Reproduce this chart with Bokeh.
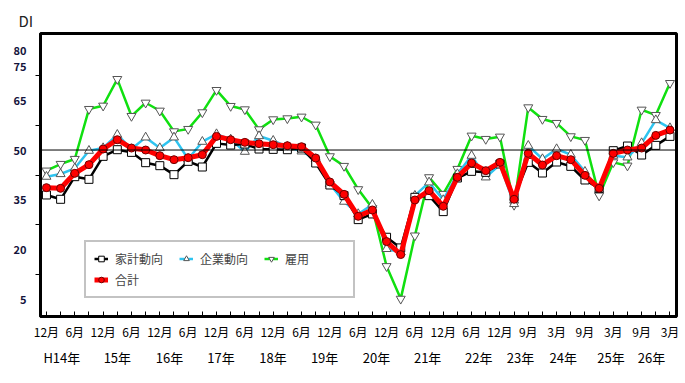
from bokeh.plotting import figure
from bokeh.layouts import column
from bokeh.models import (Range1d, FixedTicker, Span, Legend, LegendItem)
from bokeh.core.properties import value
from bokeh.embed import file_html
from bokeh.resources import INLINE

# ---- data ----
month_labels = ["12月", "6月", "12月", "6月", "12月", "6月", "12月", "6月", "12月",
                "6月", "12月", "6月", "12月", "6月", "12月", "6月", "12月",
                "9月", "3月", "9月", "3月", "9月", "3月"]
year_labels = ["H14年", "15年", "16年", "17年", "18年", "19年", "20年", "21年",
               "22年", "23年", "24年", "25年", "26年"]
y_tick_labels = [5, 20, 35, 50, 65, 75, 80]

household = [36.5, 35.2, 42.0, 41.2, 48.1, 50.1, 49.3, 46.2, 45.3, 42.6, 46.6, 44.9,
             52.0, 51.5, 51.8, 50.3, 50.2, 50.1, 50.6, 46.1, 39.5, 36.3, 29.1, 30.8,
             23.8, 20.6, 35.8, 36.3, 31.5, 41.6, 43.6, 43.3, 45.8, 35.8, 46.3, 43.1,
             46.4, 45.1, 41.0, 38.5, 49.8, 51.2, 48.5, 51.4, 54.1]
corporate = [42.0, 42.8, 44.5, 49.8, 50.6, 54.6, 50.3, 53.8, 50.6, 53.8, 47.3, 52.5,
             54.8, 53.2, 49.5, 54.2, 52.8, 51.0, 49.6, 47.3, 39.8, 34.5, 30.8, 33.6,
             20.3, 19.3, 36.3, 40.3, 35.0, 42.8, 48.3, 41.8, 45.6, 33.8, 51.3, 47.3,
             50.3, 48.6, 43.5, 38.0, 48.3, 47.8, 52.1, 59.0, 56.6]
employment = [43.8, 45.8, 47.3, 62.3, 63.3, 71.3, 60.2, 64.2, 61.8, 55.6, 56.3, 61.3,
              68.0, 63.2, 62.2, 56.2, 59.2, 59.5, 60.0, 57.6, 48.1, 45.2, 38.2, 32.5,
              15.1, 5.3, 24.3, 41.8, 36.8, 44.3, 54.3, 53.3, 54.0, 33.5, 62.8, 59.3,
              58.1, 54.1, 53.0, 36.3, 46.3, 45.3, 62.1, 60.5, 70.1]
total = [38.7, 38.5, 43.0, 45.6, 50.3, 53.1, 50.6, 50.0, 48.3, 47.1, 47.7, 48.6,
         54.1, 53.1, 52.3, 51.9, 51.6, 51.3, 51.0, 47.6, 40.4, 36.7, 30.1, 32.0,
         22.5, 18.6, 35.0, 37.8, 33.1, 41.8, 46.1, 43.8, 46.3, 35.2, 49.0, 45.5,
         48.3, 47.1, 42.4, 38.5, 49.0, 50.0, 50.6, 54.4, 56.0]

# ---- layout constants ----
year_label_pos = [-1.62, 2.6, 6.56, 10.48, 14.43, 18.35, 22.3, 26.18, 30.06,
                  33.24, 36.49, 40.12, 43.19]
minor_y_ticks = [12.5, 27.5, 42.5, 57.5, 72.5]
FONT = "Noto Sans CJK JP"
W = 685
MAIN_H = 345
STRIP_H = 38
BL, BR, BT, BB = 40, 9, 33, 29
X0, X1 = -0.42, 44.46

n = len(total)
xs = list(range(n))

p = figure(width=W, height=MAIN_H, output_backend="svg", toolbar_location=None,
           x_range=Range1d(X0, X1), y_range=Range1d(0, 85),
           min_border_left=BL, min_border_right=BR, min_border_top=BT,
           min_border_bottom=BB)
p.xgrid.visible = False
p.ygrid.visible = False
p.outline_line_color = "black"
p.outline_line_width = 3
p.background_fill_color = "white"
p.border_fill_color = "white"

p.title.text = "DI"
p.title.align = "left"
p.title.offset = -22
p.title.standoff = 5
p.title.text_font = FONT
p.title.text_font_size = "15px"
p.title.text_font_style = "normal"
p.title.text_color = "#222222"

# y axis
yax = p.yaxis[0]
yax.ticker = FixedTicker(ticks=y_tick_labels, minor_ticks=minor_y_ticks)
yax.major_tick_line_color = None
yax.major_tick_out = 0
yax.major_tick_in = 0
yax.minor_tick_line_color = "black"
yax.minor_tick_in = 0
yax.minor_tick_out = 5
yax.axis_line_width = 3
yax.major_label_text_font = FONT
yax.major_label_text_font_size = "11px"
yax.major_label_text_font_style = "bold"
yax.major_label_text_color = "#14143c"
yax.major_label_standoff = 9

# x axis
xax = p.xaxis[0]
xax.ticker = FixedTicker(ticks=xs)
overrides = {}
for i in xs:
    overrides[i] = month_labels[i // 2] if i % 2 == 0 else ""
xax.major_label_overrides = overrides
xax.major_tick_in = 5
xax.major_tick_out = 0
xax.major_tick_line_color = "black"
xax.minor_tick_line_color = None
xax.axis_line_width = 3
xax.major_label_text_font = FONT
xax.major_label_text_font_size = "12px"
xax.major_label_text_color = "black"
xax.major_label_standoff = 6

p.add_layout(Span(location=50, dimension="width", line_color="black", line_width=1))

# series
g_emp_l = p.line(xs, employment, line_color="#10e010", line_width=2.5)
g_emp_m = p.scatter(xs, employment, marker="inverted_triangle", size=9,
                    fill_color="white", line_color="#555555", line_width=1)
g_corp_l = p.line(xs, corporate, line_color="#2ec4f0", line_width=2.5)
g_corp_m = p.scatter(xs, corporate, marker="triangle", size=9,
                     fill_color="white", line_color="#555555", line_width=1)
g_hh_l = p.line(xs, household, line_color="black", line_width=2.5)
g_hh_m = p.scatter(xs, household, marker="square", size=8,
                   fill_color="white", line_color="black", line_width=1)
g_tot_l = p.line(xs, total, line_color="#ff0000", line_width=5)
g_tot_m = p.scatter(xs, total, marker="circle", size=8,
                    fill_color="#ff0000", line_color="#700000", line_width=1)

legend = Legend(items=[
    LegendItem(label="家計動向", renderers=[g_hh_l, g_hh_m]),
    LegendItem(label="企業動向", renderers=[g_corp_l, g_corp_m]),
    LegendItem(label="雇用", renderers=[g_emp_l, g_emp_m]),
    LegendItem(label="合計", renderers=[g_tot_l, g_tot_m]),
], location=(44, 18), orientation="horizontal", ncols=3)
legend.label_text_font = FONT
legend.label_text_font_size = "12px"
legend.label_width = 60
legend.label_height = 15
legend.glyph_width = 14
legend.glyph_height = 15
legend.label_standoff = 7
legend.spacing = 4
legend.padding = 8
legend.margin = 0
legend.border_line_color = "#888888"
legend.border_line_width = 2
legend.background_fill_color = "white"
legend.background_fill_alpha = 1
p.add_layout(legend, "center")

# strip below with the year labels, same x scale as the main plot
scale = (W - BL - BR) / (X1 - X0)
sx0 = X0 - BL / scale
sx1 = X1 + BR / scale
p2 = figure(width=W, height=STRIP_H, output_backend="svg", toolbar_location=None,
            x_range=Range1d(sx0, sx1), y_range=Range1d(0, STRIP_H),
            x_axis_type=None, y_axis_type=None,
            min_border_left=0, min_border_right=0, min_border_top=0,
            min_border_bottom=0)
p2.outline_line_color = None
p2.background_fill_color = "white"
p2.border_fill_color = "white"
p2.text(x=year_label_pos, y=[STRIP_H - 12] * len(year_labels), text=year_labels,
        text_align="center", text_baseline="middle", text_font=value(FONT),
        text_font_size="13px", text_color="black")

layout = column(p, p2, spacing=0)
open("out.html", "w").write(file_html(layout, INLINE))
